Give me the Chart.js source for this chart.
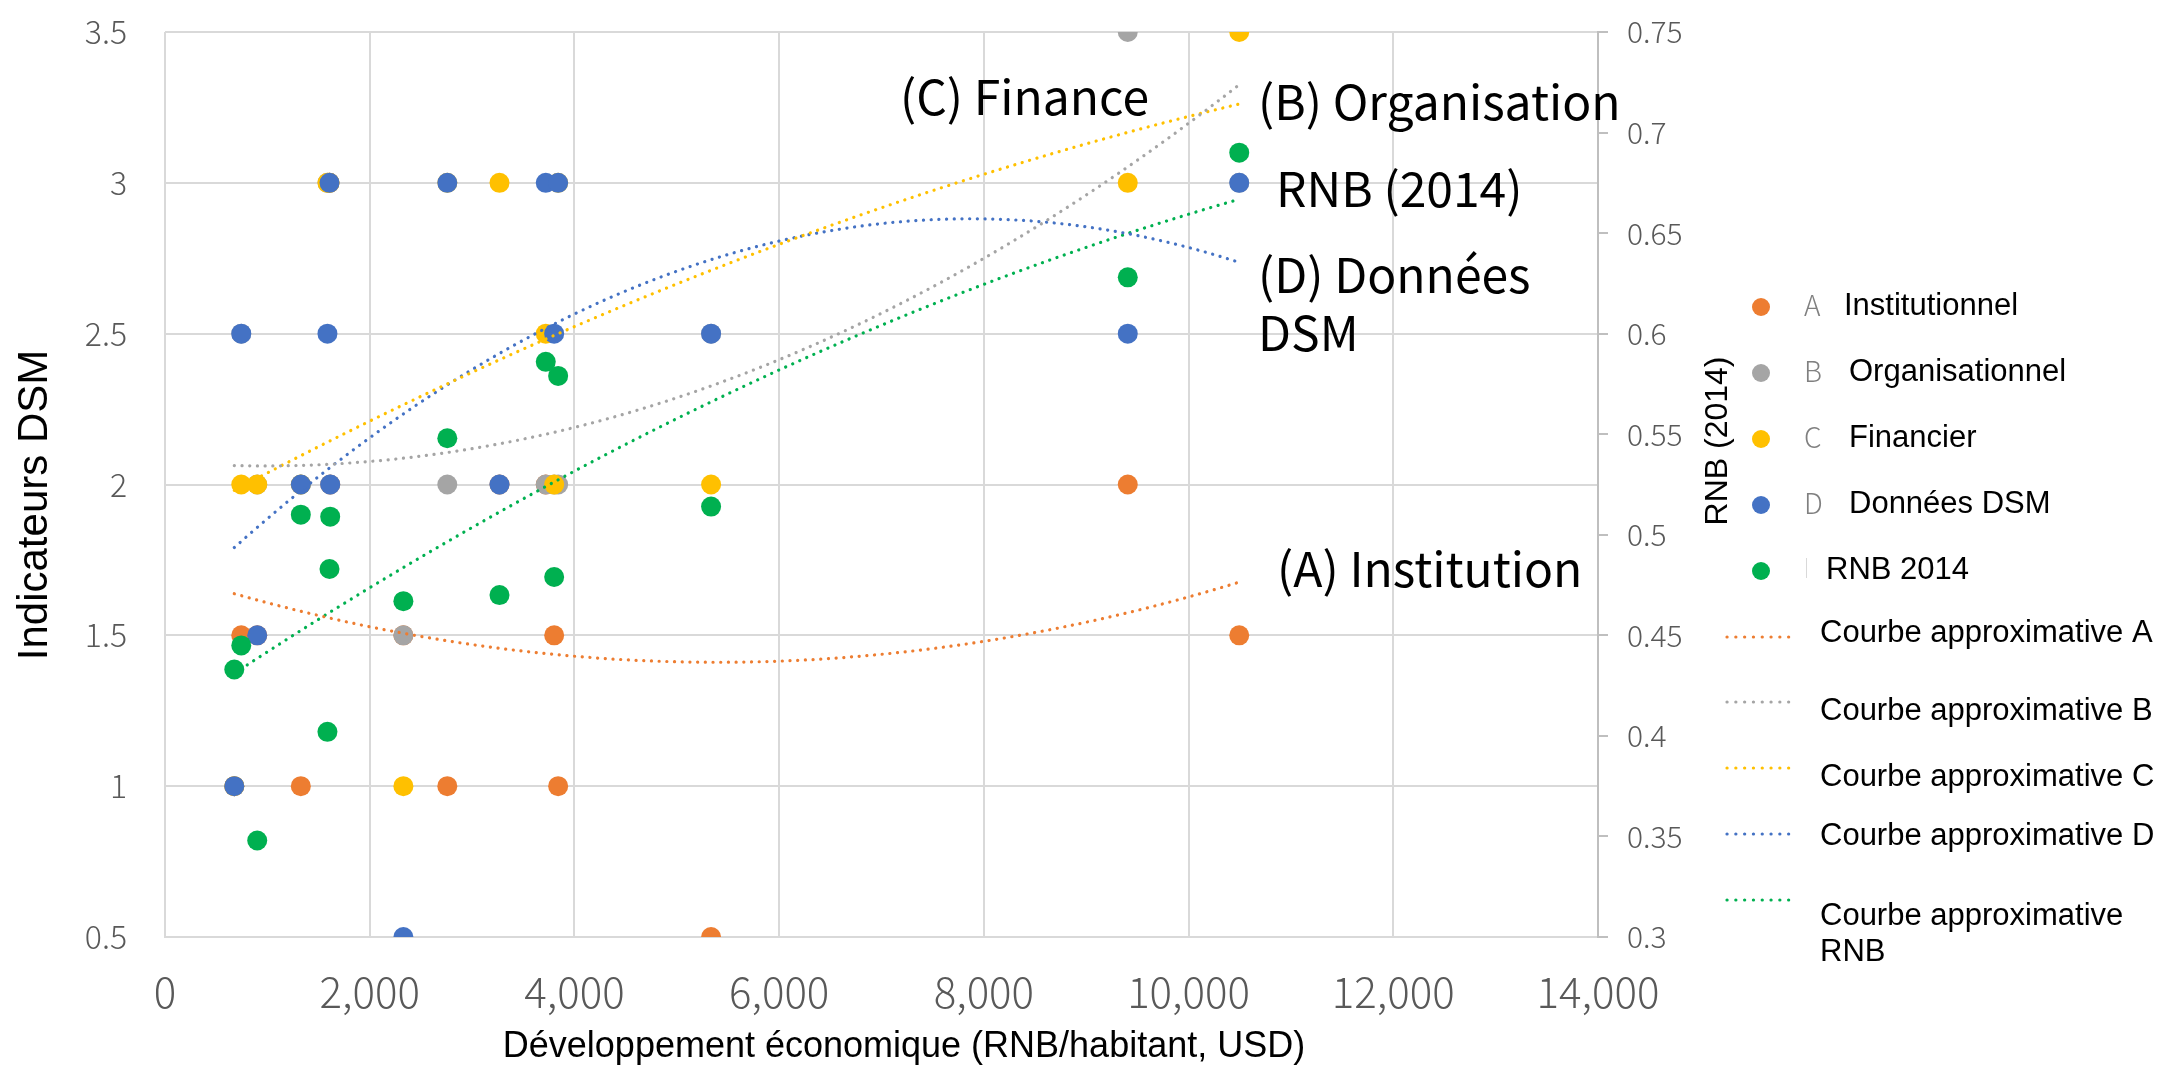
<!DOCTYPE html>
<html>
<head>
<meta charset="utf-8">
<title>Indicateurs DSM et RNB</title>
<script src="https://cdn.jsdelivr.net/npm/chart.js@4.4.0/dist/chart.umd.min.js"></script>
<style>
  html, body { margin: 0; padding: 0; background: #ffffff; }
  #graphique { display: block; }
</style>
</head>
<body>
<canvas id="graphique" width="2167" height="1066"></canvas>
<script>
// RNB par habitant (USD) de chaque pays
var rnbHabitant = [677, 745, 901, 1327, 1587, 1607, 1614, 2329, 2758, 3268, 3720, 3802, 3841, 5335, 9406, 10495];
// Indicateurs DSM (axe de gauche), null = pas de valeur
var institutionnel = [1, 1.5, 1.5, 1, null, 3, 2, 1.5, 1, 2, 2, 1.5, 1, 0.5, 2, 1.5];
var organisationnel = [1, 2.5, 2, 2, 3, 3, 2, 1.5, 2, 2, 2, 2, 2, 2.5, 3.5, 3];
var financier = [1, 2, 2, 2, 3, 3, null, 1, 3, 3, 2.5, 2, 3, 2, 3, 3.5];
var donneesDSM = [1, 2.5, 1.5, 2, 2.5, 3, 2, 0.5, 3, 2, 3, 2.5, 3, 2.5, 2.5, 3];
// RNB 2014 (axe de droite)
var rnb2014 = [0.433, 0.445, 0.348, 0.510, 0.402, 0.483, 0.509, 0.467, 0.548, 0.470, 0.586, 0.479, 0.579, 0.514, 0.628, 0.690];

var ticksX = [0, 2000, 4000, 6000, 8000, 10000, 12000, 14000];
var ticksY = [0.5, 1, 1.5, 2, 2.5, 3, 3.5];
var ticksY2 = [0.3, 0.35, 0.4, 0.45, 0.5, 0.55, 0.6, 0.65, 0.7, 0.75];

var couleurs = ['#ED7D31', '#A5A5A5', '#FFC000', '#4472C4', '#00B050'];

// points (x, y) d'une serie
function points(ys) {
  var res = [];
  for (var i = 0; i < rnbHabitant.length; i++) {
    if (ys[i] != null) res.push({ x: rnbHabitant[i], y: ys[i] });
  }
  return res;
}

// courbe approximative : polynome d'ordre 2 (moindres carres)
function courbeApprox(ys) {
  var s = [0, 0, 0, 0, 0], t = [0, 0, 0];
  var xmin = Infinity, xmax = -Infinity;
  for (var i = 0; i < rnbHabitant.length; i++) {
    if (ys[i] == null) continue;
    var x = rnbHabitant[i] / 1000, p = 1;
    for (var k = 0; k < 5; k++) { s[k] += p; if (k < 3) t[k] += ys[i] * p; p *= x; }
    xmin = Math.min(xmin, rnbHabitant[i]); xmax = Math.max(xmax, rnbHabitant[i]);
  }
  var m = [[s[0], s[1], s[2], t[0]], [s[1], s[2], s[3], t[1]], [s[2], s[3], s[4], t[2]]];
  for (var c = 0; c < 3; c++) {
    for (var r = c + 1; r < 3; r++) {
      var f = m[r][c] / m[c][c];
      for (var j = c; j < 4; j++) m[r][j] -= f * m[c][j];
    }
  }
  var a = [0, 0, 0];
  for (var r2 = 2; r2 >= 0; r2--) {
    var v = m[r2][3];
    for (var j2 = r2 + 1; j2 < 3; j2++) v -= m[r2][j2] * a[j2];
    a[r2] = v / m[r2][r2];
  }
  var res = [];
  for (var n = 0; n <= 100; n++) {
    var xx = xmin + (xmax - xmin) * n / 100, u = xx / 1000;
    res.push({ x: xx, y: a[0] + a[1] * u + a[2] * u * u });
  }
  return res;
}

function serie(label, ys, couleur, axe, ordre) {
  return {
    label: label, data: points(ys), yAxisID: axe, order: ordre,
    backgroundColor: couleur, borderColor: couleur, borderWidth: 0,
    pointRadius: 10, pointHoverRadius: 10, pointBorderWidth: 0
  };
}

function tendance(label, ys, couleur, axe) {
  return {
    label: label, data: courbeApprox(ys), yAxisID: axe, order: 0,
    showLine: true, fill: false, tension: 0, pointRadius: 0, pointHoverRadius: 0,
    borderColor: couleur, borderWidth: 3.2, borderDash: [0.1, 7.6], borderCapStyle: 'round'
  };
}

var policeTicks = '"Noto Sans CJK JP", "Noto Sans", sans-serif';

var textesLibres = {
  id: 'textesLibres',
  afterDraw: function (chart) {
    var ctx = chart.ctx;
    ctx.save();

    // etiquettes des courbes
    ctx.fillStyle = '#000000';
    ctx.textAlign = 'left';
    ctx.textBaseline = 'alphabetic';
    ctx.font = '48px ' + policeTicks;
    ctx.fillText('(C) Finance', 900, 115);
    ctx.fillText('(B) Organisation', 1258, 120);
    ctx.fillText('RNB (2014)', 1276, 207);
    ctx.fillText('(D) Données', 1258, 293);
    ctx.fillText('DSM', 1258, 351);
    ctx.fillText('(A) Institution', 1277, 587);

    // titres des axes
    ctx.font = '42px "Liberation Sans", Arial, sans-serif';
    ctx.textAlign = 'center';
    ctx.textBaseline = 'middle';
    ctx.save();
    ctx.translate(35, 505);
    ctx.rotate(-Math.PI / 2);
    ctx.fillText('Indicateurs DSM', 0, 0);
    ctx.restore();

    ctx.font = '32px "Liberation Sans", Arial, sans-serif';
    ctx.save();
    ctx.translate(1718, 441);
    ctx.rotate(-Math.PI / 2);
    ctx.fillText('RNB (2014)', 0, 0);
    ctx.restore();

    ctx.font = '36px "Liberation Sans", Arial, sans-serif';
    ctx.textBaseline = 'alphabetic';
    ctx.fillText('Développement économique (RNB/habitant, USD)', 904, 1057);

    // legende : marqueurs
    var legY = [307, 373, 439, 505, 571];
    var lettres = ['A', 'B', 'C', 'D'];
    var noms = ['Institutionnel', 'Organisationnel', 'Financier', 'Données DSM', 'RNB 2014'];
    var nomX = [1844, 1849, 1849, 1849, 1826];
    for (var i = 0; i < 5; i++) {
      ctx.fillStyle = couleurs[i];
      ctx.beginPath();
      ctx.arc(1761, legY[i], 9, 0, Math.PI * 2);
      ctx.fill();
      if (i < 4) {
        ctx.fillStyle = '#808080';
        ctx.font = '300 28px ' + policeTicks;
        ctx.textAlign = 'left';
        ctx.textBaseline = 'middle';
        ctx.fillText(lettres[i], 1804, legY[i] - 2);
      }
      ctx.fillStyle = '#000000';
      ctx.font = '31px "Liberation Sans", Arial, sans-serif';
      ctx.textAlign = 'left';
      ctx.textBaseline = 'middle';
      ctx.fillText(noms[i], nomX[i], legY[i] - 1);
    }
    ctx.strokeStyle = '#d9d9d9';
    ctx.lineWidth = 1;
    ctx.beginPath();
    ctx.moveTo(1806.5, 558);
    ctx.lineTo(1806.5, 578);
    ctx.stroke();

    // legende : courbes approximatives
    var ligY = [637, 702, 768, 834, 900];
    var ligTexte = ['Courbe approximative A', 'Courbe approximative B', 'Courbe approximative C', 'Courbe approximative D', 'Courbe approximative'];
    var ligTexteY = [633, 711, 777, 836, 916];
    ctx.lineWidth = 3.2;
    ctx.lineCap = 'round';
    ctx.setLineDash([0.1, 8.7]);
    for (var k = 0; k < 5; k++) {
      ctx.strokeStyle = couleurs[k];
      ctx.beginPath();
      ctx.moveTo(1727, ligY[k]);
      ctx.lineTo(1797, ligY[k]);
      ctx.stroke();
      ctx.fillStyle = '#000000';
      ctx.fillText(ligTexte[k], 1820, ligTexteY[k]);
    }
    ctx.fillText('RNB', 1820, 952);
    ctx.restore();
  }
};

var grille = '#d9d9d9';

// les marges des etiquettes ne doivent pas deplacer la zone de trace
function sansMarge(s) {
  s.paddingTop = 0; s.paddingBottom = 0; s.paddingLeft = 0; s.paddingRight = 0;
}

new Chart(document.getElementById('graphique'), {
  type: 'scatter',
  data: {
    datasets: [
      tendance('Courbe approximative A', institutionnel, couleurs[0], 'y'),
      tendance('Courbe approximative B', organisationnel, couleurs[1], 'y'),
      tendance('Courbe approximative C', financier, couleurs[2], 'y'),
      tendance('Courbe approximative D', donneesDSM, couleurs[3], 'y'),
      tendance('Courbe approximative RNB', rnb2014, couleurs[4], 'y2'),
      serie('RNB 2014', rnb2014, couleurs[4], 'y2', 1),
      serie('Données DSM', donneesDSM, couleurs[3], 'y', 2),
      serie('Financier', financier, couleurs[2], 'y', 3),
      serie('Organisationnel', organisationnel, couleurs[1], 'y', 4),
      serie('Institutionnel', institutionnel, couleurs[0], 'y', 5)
    ]
  },
  options: {
    responsive: false,
    animation: false,
    devicePixelRatio: 1,
    layout: { padding: { left: 0, top: 32, right: 449, bottom: 0 } },
    plugins: { legend: { display: false }, tooltip: { enabled: false } },
    scales: {
      x: {
        type: 'linear', min: 0, max: 14000,
        afterFit: function (s) { s.height = 129; sansMarge(s); },
        afterBuildTicks: function (s) { s.ticks = ticksX.map(function (v) { return { value: v }; }); },
        grid: { color: grille, lineWidth: 2, drawTicks: false },
        border: { color: grille, width: 2 },
        ticks: {
          color: '#595959', padding: 30, maxRotation: 0, autoSkip: false,
          font: { family: policeTicks, size: 42, weight: '300' },
          callback: function (v) { return v.toLocaleString('en-US'); }
        }
      },
      y: {
        type: 'linear', position: 'left', min: 0.5, max: 3.5,
        afterFit: function (s) { s.width = 165; sansMarge(s); },
        afterBuildTicks: function (s) { s.ticks = ticksY.map(function (v) { return { value: v }; }); },
        grid: { color: grille, lineWidth: 2, drawTicks: false },
        border: { display: false },
        ticks: {
          color: '#595959', padding: 38,
          font: { family: policeTicks, size: 32, weight: '300' },
          callback: function (v) { return String(v); }
        }
      },
      y2: {
        type: 'linear', position: 'right', min: 0.3, max: 0.75,
        afterFit: function (s) { s.width = 120; sansMarge(s); },
        afterBuildTicks: function (s) { s.ticks = ticksY2.map(function (v) { return { value: v }; }); },
        grid: { drawOnChartArea: false, color: '#bfbfbf', lineWidth: 2, tickLength: 10 },
        border: { color: '#bfbfbf', width: 2 },
        ticks: {
          color: '#595959', padding: 19,
          font: { family: policeTicks, size: 30, weight: '300' },
          callback: function (v) { return String(Number(v.toFixed(2))); }
        }
      }
    }
  },
  plugins: [textesLibres]
});
</script>
</body>
</html>
